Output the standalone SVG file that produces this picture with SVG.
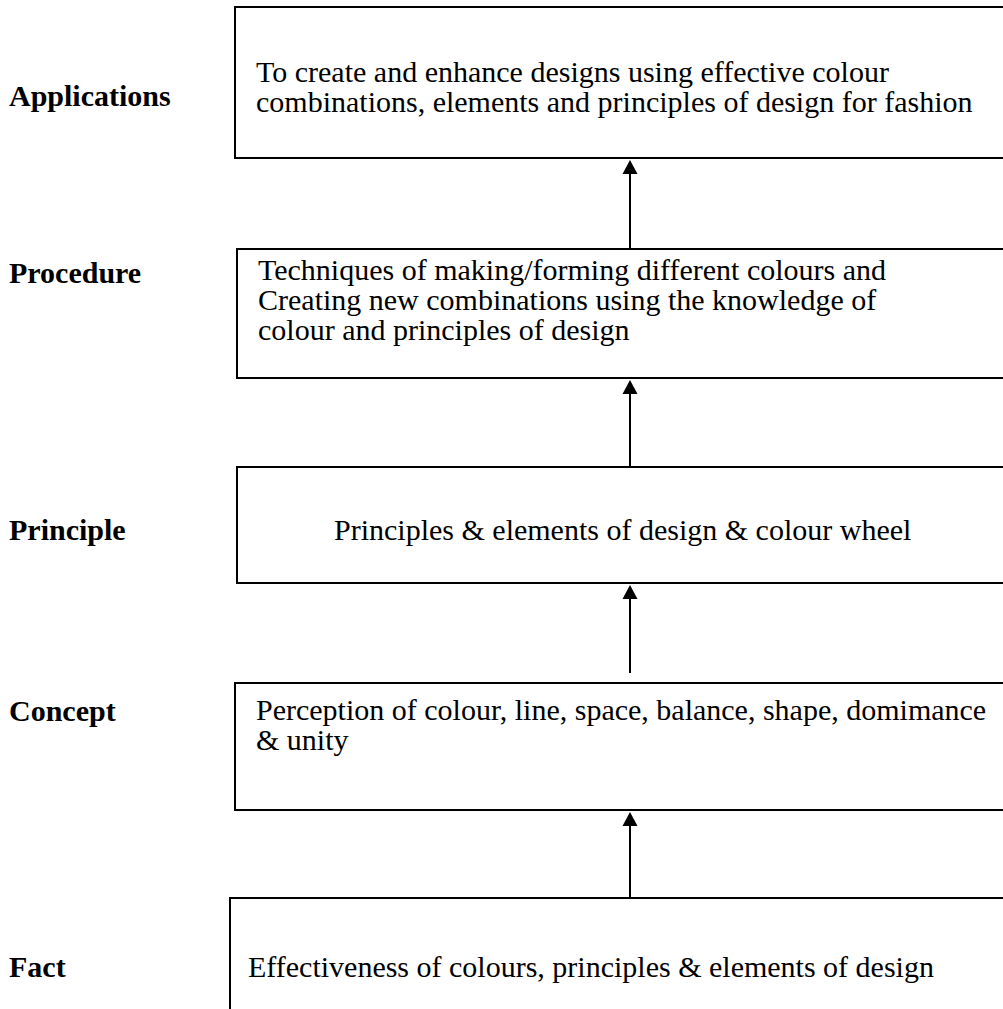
<svg xmlns="http://www.w3.org/2000/svg" width="1003" height="1009" viewBox="0 0 1003 1009">
<style>
.box{fill:#fff;stroke:#000;stroke-width:2}
.t{font-family:"Liberation Serif","Times New Roman",serif;font-size:30px;fill:#000}
.lbl{font-family:"Liberation Serif","Times New Roman",serif;font-size:30px;font-weight:bold;fill:#000}
.conn{stroke:#000;stroke-width:2;fill:none}
.head{fill:#000}
</style>
<rect width="1003" height="1009" fill="#fff"/>
<g id="connectors">
<line class="conn" x1="630" y1="248" x2="630" y2="173"/>
<path class="head" d="M622.5,174 L630,160 L637.5,174 Z"/>
<line class="conn" x1="630" y1="467" x2="630" y2="393"/>
<path class="head" d="M622.5,394 L630,380 L637.5,394 Z"/>
<line class="conn" x1="630" y1="673" x2="630" y2="598"/>
<path class="head" d="M622.5,599 L630,585 L637.5,599 Z"/>
<line class="conn" x1="630" y1="898" x2="630" y2="825"/>
<path class="head" d="M622.5,826 L630,812 L637.5,826 Z"/>
</g>
<g id="applications">
<text class="lbl" x="9" y="106">Applications</text>
<rect class="box" x="235" y="7" width="790" height="151"/>
<text class="t" x="256" y="82">To create and enhance designs using effective colour</text>
<text class="t" x="256" y="112">combinations, elements and principles of design for fashion</text>
</g>
<g id="procedure">
<text class="lbl" x="9" y="283">Procedure</text>
<rect class="box" x="237" y="249" width="790" height="129"/>
<text class="t" x="258" y="280">Techniques of making/forming different colours and</text>
<text class="t" x="258" y="310">Creating new combinations using the knowledge of</text>
<text class="t" x="258" y="340">colour and principles of design</text>
</g>
<g id="principle">
<text class="lbl" x="9" y="540">Principle</text>
<rect class="box" x="237" y="467" width="790" height="116"/>
<text class="t" x="334" y="540">Principles &amp; elements of design &amp; colour wheel</text>
</g>
<g id="concept">
<text class="lbl" x="9" y="721">Concept</text>
<rect class="box" x="235" y="683" width="790" height="127"/>
<text class="t" x="256" y="720">Perception of colour, line, space, balance, shape, domimance</text>
<text class="t" x="256" y="750">&amp; unity</text>
</g>
<g id="fact">
<text class="lbl" x="9" y="977">Fact</text>
<rect class="box" x="230" y="898" width="800" height="130"/>
<text class="t" x="248" y="977">Effectiveness of colours, principles &amp; elements of design</text>
</g>
</svg>
